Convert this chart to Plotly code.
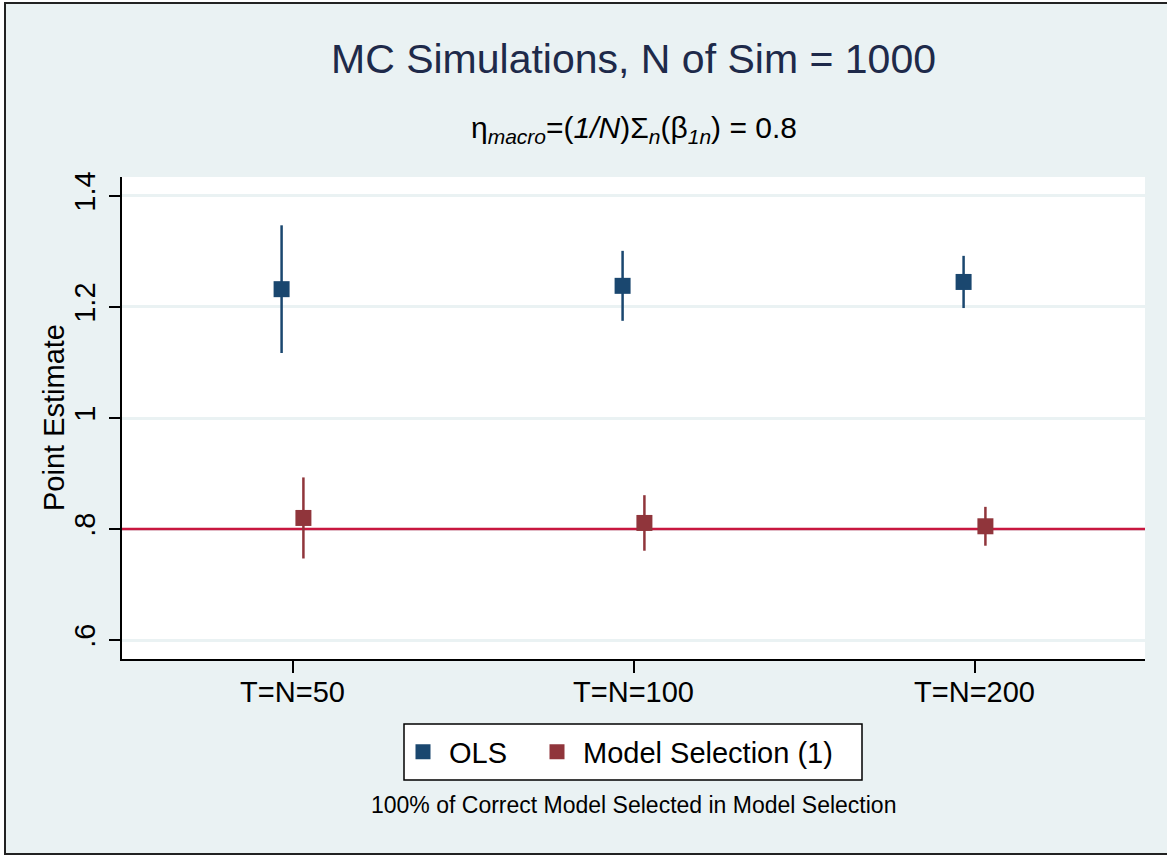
import plotly.graph_objects as go

# ---- data ----
categories = ["T=N=50", "T=N=100", "T=N=200"]
ols_est = [1.232, 1.238, 1.245]
ols_err = [0.115, 0.063, 0.047]
ms_est = [0.820, 0.811, 0.805]
ms_err = [0.073, 0.050, 0.035]
ref_value = 0.8
y_tickvals = [0.6, 0.8, 1.0, 1.2, 1.4]
y_ticktext = [".6", ".8", "1", "1.2", "1.4"]

# ---- style ----
FONT = "Liberation Sans, Arial, Helvetica, sans-serif"
OLS_COLOR = "#1a476f"
MS_COLOR = "#90353b"
REF_COLOR = "#c8173f"
BG = "#eaf2f3"
offset = 0.032
xpos = list(range(1, len(categories) + 1))

# plot-area pixel geometry
L, R, T, B = 122, 1145, 177, 659
PW, PH = R - L, B - T


def px(x):
    return (x - L) / PW


def py(y):
    return (B - y) / PH


fig = go.Figure()

# reference line
fig.add_trace(go.Scatter(
    x=[0.5, len(categories) + 0.5], y=[ref_value, ref_value], mode="lines",
    line=dict(color=REF_COLOR, width=2.5), showlegend=False, hoverinfo="skip"))

fig.add_trace(go.Scatter(
    x=[p - offset for p in xpos], y=ols_est, mode="markers", name="OLS",
    marker=dict(symbol="square", size=16, color=OLS_COLOR),
    error_y=dict(type="data", array=ols_err, visible=True, color=OLS_COLOR,
                 thickness=2.5, width=0),
    showlegend=False))
fig.add_trace(go.Scatter(
    x=[p + offset for p in xpos], y=ms_est, mode="markers", name="Model Selection (1)",
    marker=dict(symbol="square", size=16, color=MS_COLOR),
    error_y=dict(type="data", array=ms_err, visible=True, color=MS_COLOR,
                 thickness=2.5, width=0),
    showlegend=False))

# legend entries
fig.add_trace(go.Scatter(x=[None], y=[None], mode="markers", name="OLS",
                         marker=dict(symbol="square", size=15, color=OLS_COLOR),
                         legend="legend"))
fig.add_trace(go.Scatter(x=[None], y=[None], mode="markers", name="Model Selection (1)",
                         marker=dict(symbol="square", size=15, color=MS_COLOR),
                         legend="legend2"))

leg_common = dict(orientation="h", xanchor="left", yanchor="middle",
                  bgcolor="rgba(0,0,0,0)", borderwidth=0, itemwidth=42,
                  font=dict(size=29, family=FONT, color="black"))

fig.update_layout(
    width=1167, height=856,
    margin=dict(l=L, r=1167 - R, t=T, b=856 - B),
    paper_bgcolor="white", plot_bgcolor="white",
    font=dict(family=FONT, color="black", size=28),
    title=dict(text="MC Simulations, N of Sim = 1000", x=0.5, xref="paper",
               xanchor="center", y=1 - 59 / 856, yanchor="middle",
               font=dict(size=41, color="#1e2a4a", family=FONT)),
    showlegend=True,
    legend=dict(x=px(397), y=py(752), **leg_common),
    legend2=dict(x=px(531), y=py(752), **leg_common),
    xaxis=dict(range=[0.5, len(categories) + 0.5], tickvals=xpos, ticktext=categories,
               showgrid=False, zeroline=False, showline=True, linecolor="black",
               linewidth=2, ticks="outside", ticklen=12, tickwidth=1.5,
               tickcolor="black", tickfont=dict(size=29), ticklabelstandoff=-6),
    yaxis=dict(range=[0.566, 1.434], tickvals=y_tickvals, ticktext=y_ticktext,
               tickangle=-90, showgrid=True, gridcolor=BG, gridwidth=3,
               zeroline=False, showline=True, linecolor="black", linewidth=2,
               ticks="outside", ticklen=11, tickwidth=1.5, tickcolor="black",
               tickfont=dict(size=29), ticklabelstandoff=2),
    shapes=[
        dict(type="rect", xref="paper", yref="paper",
             x0=px(5), x1=px(1220), y0=py(854), y1=py(3),
             fillcolor=BG, line=dict(color="#222222", width=2), layer="below"),
        dict(type="rect", xref="paper", yref="paper", x0=0, x1=1, y0=0, y1=1,
             fillcolor="white", line=dict(width=0), layer="below"),
        dict(type="rect", xref="paper", yref="paper",
             x0=px(404), x1=px(862), y0=py(780), y1=py(724),
             fillcolor="white", line=dict(color="black", width=1.5), layer="below"),
    ],
    annotations=[
        dict(text="η<sub><i>macro</i></sub>=(<i>1/N</i>)Σ<sub><i>n</i></sub>(β<sub><i>1n</i></sub>) = 0.8",
             xref="paper", yref="paper", x=0.5, y=py(130),
             xanchor="center", yanchor="middle", showarrow=False,
             font=dict(size=30, color="black", family=FONT)),
        dict(text="Point Estimate", textangle=-90,
             xref="paper", yref="paper", x=px(54), y=py(418),
             xanchor="center", yanchor="middle", showarrow=False,
             font=dict(size=29, color="black", family=FONT)),
        dict(text="100% of Correct Model Selected in Model Selection",
             xref="paper", yref="paper", x=0.5, y=py(805),
             xanchor="center", yanchor="middle", showarrow=False,
             font=dict(size=23, color="black", family=FONT)),
    ],
)

fig.write_html("out.html")
